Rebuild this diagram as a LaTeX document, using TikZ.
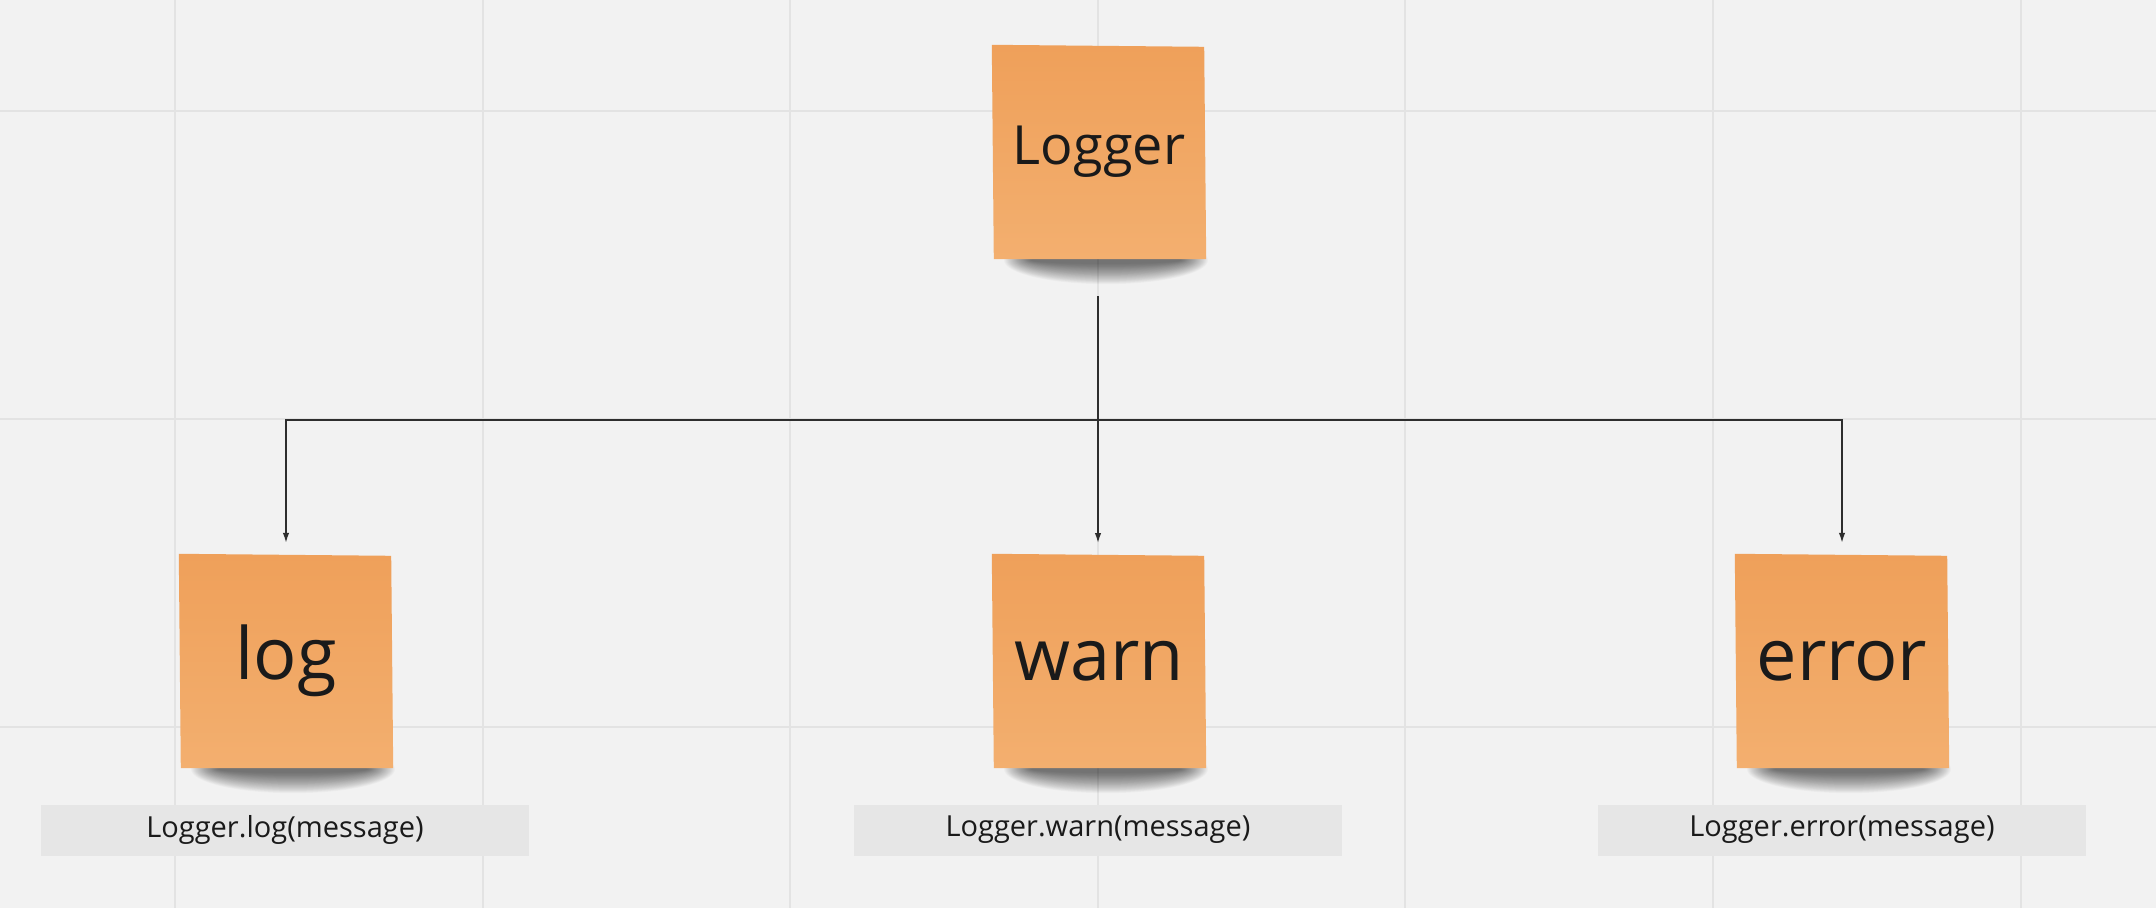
\documentclass[tikz,border=0pt]{standalone}
\usepackage{fontspec}
\setmainfont{Open Sans}
\usetikzlibrary{arrows.meta,calc}
\definecolor{bgc}{HTML}{F2F2F2}
\definecolor{gridc}{HTML}{E3E3E3}
\definecolor{notetop}{HTML}{EFA05A}
\definecolor{notebot}{HTML}{F3AF6F}
\definecolor{labc}{HTML}{E6E6E6}
\definecolor{txtc}{HTML}{1A1A1A}
\definecolor{linec}{HTML}{2E2E2E}
\pgfdeclarelayer{bglayer}
\pgfdeclarelayer{shlayer}
\pgfdeclarelayer{notelayer}
\pgfsetlayers{bglayer,shlayer,notelayer,main}
\tikzset{
  note/.style={minimum width=212pt, minimum height=214pt, inner sep=0pt, text=txtc},
  bigtext/.style={font=\fontsize{72}{86}\selectfont},
  toptext/.style={font=\fontsize{54}{64}\selectfont},
  labelbox/.style={fill=labc, minimum width=488pt, minimum height=51pt, inner sep=0pt, text=txtc, font=\fontsize{29}{35}\selectfont},
  conn/.style={draw=linec, line width=1.5pt, -{Latex[length=10pt,width=6.5pt]}},
  gridline/.style={draw=gridc, line width=2pt}
}
\newcommand{\notepaper}[1]{%
  \begin{pgfonlayer}{shlayer}
    \foreach \k in {0,...,27}{
      \fill[black, opacity=0.024] ($(#1.south)+(7,1)$) ellipse [x radius={102-1.0*\k}, y radius={24-0.75*\k}];
    }
  \end{pgfonlayer}
  \begin{pgfonlayer}{notelayer}
    \shade[top color=notetop, bottom color=notebot]
      ([xshift=-1pt]#1.north west) -- ([xshift=-1pt,yshift=-2pt]#1.north east) --
      ([xshift=1pt]#1.south east) -- ([xshift=1pt]#1.south west) -- cycle;
  \end{pgfonlayer}
}
\begin{document}
\begin{tikzpicture}[x=1pt,y=-1pt]
\useasboundingbox (0,0) rectangle (2156,908);
\begin{pgfonlayer}{bglayer}
  \fill[bgc] (0,0) rectangle (2156,908);
  \foreach \gx in {175,483,790,1098,1405,1713,2021}{
    \draw[gridline] (\gx,0) -- (\gx,908);
  }
  \foreach \gy in {111,419,727}{
    \draw[gridline] (0,\gy) -- (2156,\gy);
  }
\end{pgfonlayer}

% notes
\node[note, toptext] (logger) at (1099,152) {Logger};
\node[note, bigtext] (log) at (286,661) {log};
\node[note, bigtext] (warn) at (1099,661) {warn};
\node[note, bigtext] (error) at (1842,661) {error};
\notepaper{logger}
\notepaper{log}
\notepaper{warn}
\notepaper{error}

% labels
\node[labelbox] (loglab) at (285,830) {Logger.log(message)};
\node[labelbox] (warnlab) at (1098,830) {Logger.warn(message)};
\node[labelbox] (errorlab) at (1842,830) {Logger.error(message)};

% connectors
\coordinate (start) at (1098,296);
\coordinate (bus) at (1098,420);
\draw[conn] (start) -- (bus) -| ([yshift=11pt]log.north);
\draw[conn] (start) -- (bus) -| ([yshift=11pt]error.north);
\draw[conn] (start) -- (1098,543);
\end{tikzpicture}
\end{document}
